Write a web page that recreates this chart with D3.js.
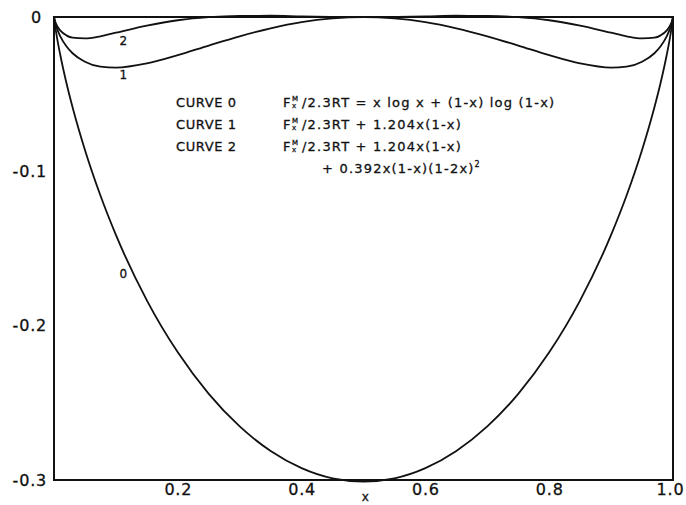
<!DOCTYPE html>
<html>
<head>
<meta charset="utf-8">
<script src="https://cdn.jsdelivr.net/npm/d3@7"></script>
<style>
  html, body { margin: 0; padding: 0; background: #fff; }
  svg { display: block; }
  text { font-family: "DejaVu Sans", sans-serif; fill: #111; stroke: #111; stroke-width: 0.3px; }
</style>
</head>
<body>
<svg id="chart" width="686" height="505"></svg>
<script>
// Mole fraction x (symmetric about 0.5)
const xs = [0, 0.001, 0.005, 0.01, 0.02, 0.03, 0.05, 0.075, 0.1, 0.15, 0.2, 0.25, 0.3, 0.35, 0.4, 0.45, 0.5,
            0.55, 0.6, 0.65, 0.7, 0.75, 0.8, 0.85, 0.9, 0.925, 0.95, 0.97, 0.98, 0.99, 0.995, 0.999, 1];

// Curve 0: ideal mixing, x log x + (1-x) log (1-x)
const curve0 = [0, -0.0034, -0.0137, -0.0243, -0.0426, -0.0585, -0.0862, -0.1157, -0.1412, -0.1836, -0.2173, -0.2442, -0.2653, -0.2812, -0.2923, -0.2989, -0.3010,
                -0.2989, -0.2923, -0.2812, -0.2653, -0.2442, -0.2173, -0.1836, -0.1412, -0.1157, -0.0862, -0.0585, -0.0426, -0.0243, -0.0137, -0.0034, 0];

// Curve 1: with the 1.204 x(1-x) term
const curve1 = [0, -0.0022, -0.0077, -0.0124, -0.0190, -0.0235, -0.0290, -0.0322, -0.0328, -0.0301, -0.0247, -0.0185, -0.0125, -0.0073, -0.0033, -0.0009, 0,
                -0.0009, -0.0033, -0.0073, -0.0125, -0.0185, -0.0247, -0.0301, -0.0328, -0.0322, -0.0290, -0.0235, -0.0190, -0.0124, -0.0077, -0.0022, 0];

// Curve 2: with the additional 0.392 x(1-x)(1-2x)^2 term
const curve2 = [0, -0.0018, -0.0058, -0.0087, -0.0119, -0.0134, -0.0139, -0.0125, -0.0102, -0.0056, -0.0021, -0.0001, 0.0007, 0.0008, 0.0004, 0.0001, 0,
                0.0001, 0.0004, 0.0008, 0.0007, -0.0001, -0.0021, -0.0056, -0.0102, -0.0125, -0.0139, -0.0134, -0.0119, -0.0087, -0.0058, -0.0018, 0];

const xTicks = [0.2, 0.4, 0.6, 0.8, 1.0];
const xTickLabels = ["0.2", "0.4", "0.6", "0.8", "1.0"];
const yTicks = [0, -0.1, -0.2, -0.3];
const yTickLabels = ["0", "-0.1", "-0.2", "-0.3"];

const curveNames = ["CURVE 0", "CURVE 1", "CURVE 2"];
const curveLabels = ["0", "1", "2"];
// where each curve number sits: [x, y] in data units
const curveLabelPos = [[0.112, -0.1665], [0.112, -0.0375], [0.112, -0.0152]];

const svg = d3.select("#chart");
const W = 686, H = 505;
const m = { l: 54, r: 13, t: 17, b: 25 };

const x = d3.scaleLinear().domain([0, 1]).range([m.l, W - m.r]);
const y = d3.scaleLinear().domain([-0.3, 0]).range([H - m.b, m.t]);

// Frame
svg.append("rect")
  .attr("x", x(0)).attr("y", y(0))
  .attr("width", x(1) - x(0)).attr("height", y(-0.3) - y(0))
  .attr("fill", "none").attr("stroke", "#111").attr("stroke-width", 2);

// Axes (labels only, no tick marks)
const xAxis = svg.append("g")
  .attr("transform", `translate(0,${y(-0.3)})`)
  .call(d3.axisBottom(x).tickValues(xTicks).tickSize(0).tickPadding(4)
    .tickFormat((d, i) => xTickLabels[i]));
const yAxis = svg.append("g")
  .attr("transform", `translate(${x(0)},0)`)
  .call(d3.axisLeft(y).tickValues(yTicks).tickSize(0).tickPadding(7)
    .tickFormat((d, i) => yTickLabels[i]));
[xAxis, yAxis].forEach(g => {
  g.select(".domain").remove();
  g.selectAll("text")
    .style("font-family", '"DejaVu Sans", sans-serif')
    .style("font-size", "16px")
    .style("letter-spacing", "0.8px")
    .attr("fill", "#111");
});
// keep the last x label inside the right edge, nudge the top y label left
xAxis.selectAll(".tick").filter(d => d === 1).select("text").attr("dx", -3);
yAxis.selectAll(".tick").filter(d => d === 0).select("text").attr("dx", -5);

svg.append("text")
  .attr("x", x(0.503)).attr("y", 501)
  .attr("text-anchor", "middle")
  .style("font-size", "12px")
  .text("x");

// Curves
const line = d3.line()
  .x((d, i) => x(xs[i]))
  .y(d => y(d))
  .curve(d3.curveMonotoneX);

[curve0, curve1, curve2].forEach(c => {
  svg.append("path")
    .attr("d", line(c))
    .attr("fill", "none")
    .attr("stroke", "#111")
    .attr("stroke-width", 1.8)
    .attr("stroke-linejoin", "round");
});

// Curve number labels
curveLabelPos.forEach((p, k) => {
  svg.append("text")
    .attr("x", x(p[0])).attr("y", y(p[1]))
    .attr("text-anchor", "middle")
    .attr("dy", "0.36em")
    .style("font-size", "12px")
    .text(curveLabels[k]);
});

// Legend with the defining expressions
const legend = svg.append("g").style("font-size", "13px").style("letter-spacing", "1.2px");
const rowY = [107, 129, 151, 173];

function fx(g, x0, yb) {
  g.append("text").attr("x", x0).attr("y", yb).text("F");
  g.append("text").attr("x", x0 + 9).attr("y", yb - 6).style("font-size", "7px").style("letter-spacing", "0px").text("M");
  g.append("text").attr("x", x0 + 9).attr("y", yb + 1).style("font-size", "7px").style("letter-spacing", "0px").text("x");
}

curveNames.forEach((n, i) => {
  legend.append("text").attr("x", 176).attr("y", rowY[i]).style("letter-spacing", "0.6px").text(n);
  fx(legend, 283, rowY[i]);
});
legend.append("text").attr("x", 302).attr("y", rowY[0]).text("/2.3RT = x log x + (1-x) log (1-x)");
legend.append("text").attr("x", 302).attr("y", rowY[1]).text("/2.3RT + 1.204x(1-x)");
legend.append("text").attr("x", 302).attr("y", rowY[2]).text("/2.3RT + 1.204x(1-x)");
const r3 = legend.append("text").attr("x", 322).attr("y", rowY[3]);
r3.append("tspan").text("+ 0.392x(1-x)(1-2x)");
r3.append("tspan").attr("dy", -6).style("font-size", "8px").text("2");
</script>
</body>
</html>
